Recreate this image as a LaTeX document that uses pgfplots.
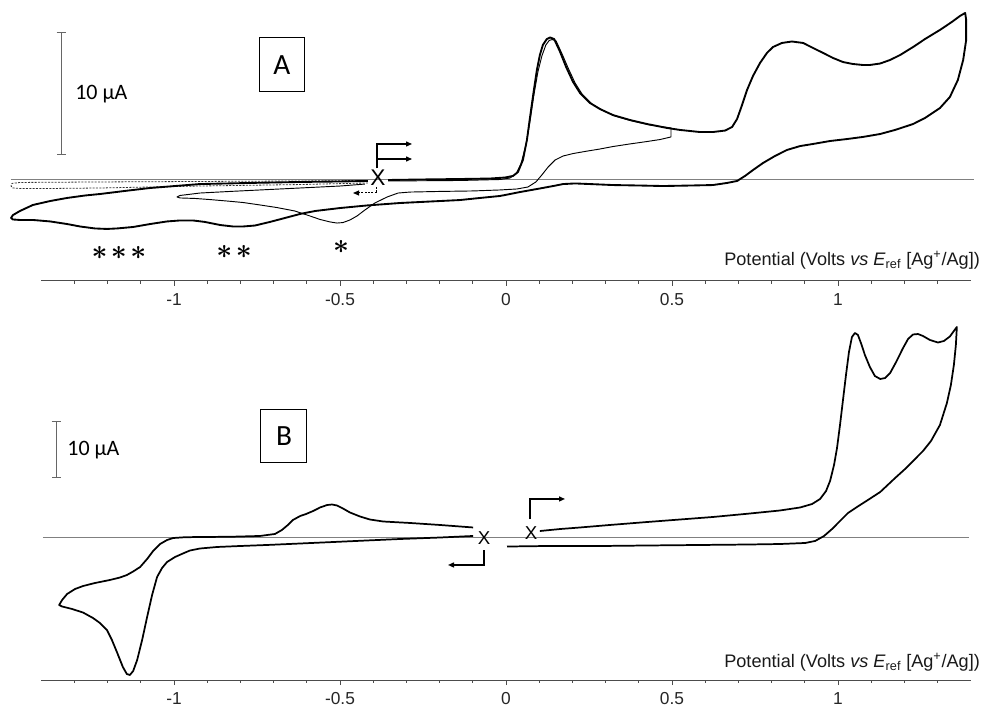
\documentclass[border=0pt]{standalone}
\usepackage{fontspec}
\setmainfont{Liberation Sans}
\newfontfamily\calib{Carlito}
\usepackage{pgfplots}
\pgfplotsset{compat=1.18}
\usetikzlibrary{arrows.meta}

\pgfplotsset{cvaxis/.style={
  anchor=origin, x=249pt, xmin=-1.4, xmax=1.4, clip=false,
  axis x line=bottom, axis y line=none,
  x axis line style={-, draw=black!70, line width=0.75pt},
  xtick={-1,-0.5,0,0.5,1}, xticklabels={-1,-0.5,0,0.5,1},
  minor xtick={-1.3,-1.2,-1.1,-0.9,-0.8,-0.7,-0.6,-0.4,-0.3,-0.2,-0.1,0.1,0.2,0.3,0.4,0.6,0.7,0.8,0.9,1.1,1.2,1.3},
  tick align=outside, major tick length=3.75pt, minor tick length=2pt,
  tick style={black!70, line width=0.6pt},
  xticklabel style={font=\fontsize{13}{15}\selectfont, text=black!85, yshift=-2pt},
  ytick=\empty,
}}
\tikzset{arr/.style={line width=1pt, -{Triangle[length=4.5pt,width=3.75pt]}}}

\begin{document}
\begin{tikzpicture}
\useasboundingbox (0,0) rectangle (745.5pt,530.25pt);

% ---------------- Panel A ----------------
\begin{axis}[cvaxis, at={(379.5pt,395.25pt)}, y=9.225pt, ymin=-8.21, ymax=14.5]
\addplot[gray, line width=0.75pt] coordinates {(-1.491,0) (1.41,0)};
% dashed loop
\addplot[black!80, line width=0.6pt, dash pattern=on 1.5pt off 1pt] coordinates {
(-0.416,-0.24) (-0.620,-0.37) (-0.922,-0.49) (-1.223,-0.65) (-1.373,-0.69) (-1.464,-0.69)
(-1.485,-0.65) (-1.491,-0.49) (-1.488,-0.28) (-1.464,-0.20) (-1.223,-0.16) (-0.922,-0.12)
(-0.620,-0.08) (-0.416,-0.04)};
% thin CV (switch at 0.5 V)
\addplot[black, line width=0.7pt, line join=round] coordinates {
(-0.355,-0.08) (-0.139,-0.04) (-0.018,0.04) (0.012,0.16) (0.030,0.49) (0.045,1.30) (0.060,2.85)
(0.072,4.72) (0.084,6.91) (0.096,8.78) (0.108,10.08) (0.120,10.98) (0.130,11.34) (0.139,11.42)
(0.151,11.30) (0.169,10.24) (0.187,9.11) (0.208,7.89) (0.229,6.99) (0.259,6.18) (0.289,5.69)
(0.328,5.20) (0.380,4.80) (0.434,4.47) (0.497,4.23) (0.497,3.50) (0.464,3.29) (0.425,3.13)
(0.373,2.93) (0.322,2.72) (0.283,2.52) (0.238,2.32) (0.202,2.15) (0.172,1.95) (0.148,1.63)
(0.127,1.06) (0.108,0.41) (0.090,-0.16) (0.066,-0.57) (0.033,-0.73) (-0.018,-0.81) (-0.099,-0.89)
(-0.199,-0.93) (-0.289,-0.98) (-0.325,-1.06) (-0.358,-1.38) (-0.395,-1.87) (-0.425,-2.44)
(-0.449,-2.93) (-0.470,-3.25) (-0.491,-3.46) (-0.509,-3.50) (-0.530,-3.41) (-0.560,-3.21)
(-0.590,-2.93) (-0.636,-2.52) (-0.690,-2.24) (-0.741,-2.03) (-0.792,-1.83) (-0.840,-1.71)
(-0.892,-1.59) (-0.937,-1.50) (-0.982,-1.46) (-0.991,-1.38) (-0.982,-1.26) (-0.922,-1.06)
(-0.831,-0.93) (-0.741,-0.81) (-0.620,-0.65) (-0.500,-0.49) (-0.425,-0.33)};
% thick CV (full range)
\addplot[black, line width=1.4pt, line join=round] coordinates {
(-0.355,0) (-0.259,0.04) (-0.139,0.08) (-0.048,0.12) (-0.003,0.20) (0.021,0.33) (0.036,0.65)
(0.051,1.63) (0.063,3.25) (0.072,5.04) (0.084,7.32) (0.093,8.94) (0.102,10.16) (0.111,10.98)
(0.123,11.46) (0.133,11.59) (0.145,11.46) (0.163,10.41) (0.181,9.19) (0.202,7.97) (0.223,7.07)
(0.253,6.26) (0.283,5.77) (0.322,5.28) (0.373,4.88) (0.425,4.55) (0.485,4.23) (0.524,4.07)
(0.584,3.90) (0.623,3.90) (0.660,4.02) (0.681,4.31) (0.696,4.96) (0.711,6.10) (0.726,7.32)
(0.744,8.46) (0.765,9.51) (0.786,10.33) (0.804,10.81) (0.831,11.14) (0.861,11.26) (0.895,11.14)
(0.925,10.73) (0.955,10.33) (0.985,9.92) (1.015,9.59) (1.045,9.43) (1.075,9.35) (1.096,9.35)
(1.127,9.47) (1.157,9.76) (1.187,10.16) (1.226,10.81) (1.262,11.46) (1.307,12.20) (1.343,12.85)
(1.367,13.33) (1.383,13.58) (1.386,13.01) (1.386,11.38) (1.377,9.76) (1.361,8.13) (1.337,6.75)
(1.307,5.85) (1.262,5.04) (1.226,4.55) (1.172,4.07) (1.127,3.74) (1.075,3.50) (1.027,3.33)
(0.976,3.17) (0.925,2.93) (0.886,2.76) (0.846,2.44) (0.810,1.95) (0.774,1.38) (0.744,0.81)
(0.720,0.33) (0.696,-0.08) (0.666,-0.24) (0.623,-0.41) (0.554,-0.45) (0.473,-0.49) (0.404,-0.45)
(0.322,-0.41) (0.253,-0.33) (0.208,-0.28) (0.172,-0.33) (0.142,-0.49) (0.102,-0.69) (0.042,-0.98)
(-0.018,-1.30) (-0.078,-1.46) (-0.139,-1.63) (-0.199,-1.71) (-0.319,-1.87) (-0.419,-2.07)
(-0.500,-2.28) (-0.575,-2.52) (-0.620,-2.76) (-0.666,-3.09) (-0.711,-3.41) (-0.756,-3.70)
(-0.792,-3.78) (-0.822,-3.78) (-0.861,-3.66) (-0.907,-3.41) (-0.943,-3.29) (-0.982,-3.29)
(-1.021,-3.37) (-1.072,-3.58) (-1.123,-3.82) (-1.172,-3.94) (-1.202,-3.98) (-1.238,-3.94)
(-1.283,-3.78) (-1.322,-3.58) (-1.373,-3.37) (-1.425,-3.25) (-1.464,-3.25) (-1.485,-3.21)
(-1.491,-3.09) (-1.485,-2.85) (-1.464,-2.52) (-1.425,-2.03) (-1.373,-1.71) (-1.322,-1.46)
(-1.268,-1.26) (-1.223,-1.14) (-1.148,-0.89) (-1.072,-0.65) (-0.997,-0.49) (-0.922,-0.33)
(-0.771,-0.24) (-0.620,-0.16) (-0.500,-0.12) (-0.416,-0.08)};
% annotations
\node[draw, line width=0.75pt, minimum width=33.75pt, minimum height=40.5pt, inner sep=0pt,
  font=\calib\fontsize{22}{24}\selectfont] at (axis cs:-0.675,9.35) {A};
\draw[black!60, line width=0.75pt, {Bar[width=6.75pt]}-{Bar[width=6.75pt]}]
  (axis cs:-1.340,2.03) -- (axis cs:-1.340,12.03);
\node[anchor=west, inner sep=0pt, font=\calib\fontsize{16.5}{18}\selectfont] at (axis cs:-1.298,7.0) {10 µA};
\node[font=\fontsize{21}{22}\selectfont\boldmath] at (axis cs:-1.166,-5.95) {${\ast}\mkern2mu{\ast}\mkern2mu{\ast}$};
\node[font=\fontsize{21}{22}\selectfont\boldmath] at (axis cs:-0.819,-5.85) {${\ast}\mkern2mu{\ast}$};
\node[font=\fontsize{21}{22}\selectfont\boldmath] at (axis cs:-0.497,-5.45) {${\ast}$};
\node[inner sep=0pt, font=\fontsize{17}{19}\selectfont] at (axis cs:-0.3855,0.16) {X};
\draw[arr] (axis cs:-0.3886,0.95) |- (axis cs:-0.2831,2.927);
\draw[arr] (axis cs:-0.3886,1.707) -- (axis cs:-0.2831,1.707);
\draw[line width=0.75pt, dash pattern=on 1.5pt off 1pt, -{Triangle[length=4.5pt,width=3.75pt]}]
  (axis cs:-0.3886,-0.55) |- (axis cs:-0.4608,-1.057);
\node[anchor=east, inner sep=0pt, font=\fontsize{13.6}{15}\selectfont, text=black!90] at (axis cs:1.428,-6.50)
  {Potential (Volts \textit{vs} \textit{E}\textsubscript{ref} [Ag\textsuperscript{+}/Ag])};
\end{axis}

% ---------------- Panel B ----------------
\begin{axis}[cvaxis, at={(379.5pt,127.5pt)}, y=4.275pt, ymin=-25.09, ymax=38]
\addplot[gray, line width=0.75pt] coordinates {(-1.395,0) (1.395,0)};
% anodic scan from X (0.08 V)
\addplot[black, line width=1.3pt, line join=round] coordinates {
(0.102,1.05) (0.163,1.40) (0.223,1.67) (0.313,2.11) (0.425,2.63) (0.524,3.07) (0.623,3.51)
(0.720,4.04) (0.825,4.65) (0.886,5.18) (0.922,5.79) (0.946,6.67) (0.964,8.07) (0.976,9.82)
(0.988,12.63) (0.997,15.61) (1.006,19.65) (1.015,24.04) (1.024,28.42) (1.033,32.46) (1.042,35.09)
(1.051,35.79) (1.060,35.44) (1.069,34.04) (1.081,31.93) (1.096,29.82) (1.111,28.25) (1.127,27.72)
(1.142,27.89) (1.157,28.77) (1.175,30.70) (1.196,33.16) (1.211,34.74) (1.226,35.53) (1.241,35.61)
(1.256,35.26) (1.277,34.56) (1.301,34.12) (1.319,34.39) (1.337,35.18) (1.349,36.14) (1.358,36.84)
(1.355,33.68) (1.349,30.18) (1.340,26.67) (1.328,23.51) (1.307,19.65) (1.280,16.84) (1.256,15.09)
(1.229,13.51) (1.202,11.93) (1.172,10.35) (1.127,7.89) (1.090,6.49) (1.057,5.26) (1.030,4.21)
(1.006,2.81) (0.982,1.40) (0.958,0.18) (0.931,-0.70) (0.901,-1.05) (0.825,-1.23) (0.726,-1.32)
(0.584,-1.40) (0.425,-1.49) (0.283,-1.58) (0.123,-1.58) (0.003,-1.67)};
% cathodic scan from X (-0.07 V)
\addplot[black, line width=1.3pt, line join=round] coordinates {
(-0.099,0.18) (-0.199,-0.09) (-0.319,-0.35) (-0.419,-0.61) (-0.521,-0.88) (-0.620,-1.14)
(-0.720,-1.40) (-0.801,-1.58) (-0.870,-1.75) (-0.922,-2.02) (-0.952,-2.37) (-0.973,-2.89)
(-0.997,-3.51) (-1.021,-4.39) (-1.036,-5.44) (-1.051,-7.02) (-1.066,-10.18) (-1.081,-14.04)
(-1.096,-18.07) (-1.111,-21.58) (-1.123,-23.51) (-1.133,-24.21) (-1.142,-24.04) (-1.154,-22.81)
(-1.172,-20.18) (-1.187,-18.07) (-1.202,-16.32) (-1.223,-15.09) (-1.244,-14.21) (-1.274,-13.25)
(-1.307,-12.63) (-1.337,-12.19) (-1.346,-11.93) (-1.337,-11.05) (-1.322,-10.00) (-1.298,-9.12)
(-1.274,-8.60) (-1.238,-8.07) (-1.193,-7.54) (-1.163,-7.11) (-1.142,-6.67) (-1.123,-6.05)
(-1.102,-5.26) (-1.081,-3.86) (-1.063,-2.46) (-1.042,-1.23) (-1.021,-0.53) (-1.003,-0.18)
(-0.967,-0.04) (-0.922,0) (-0.831,0.04) (-0.741,0.18) (-0.696,0.53) (-0.675,1.23) (-0.657,2.11)
(-0.642,2.98) (-0.620,3.68) (-0.602,4.04) (-0.581,4.56) (-0.560,5.18) (-0.539,5.61) (-0.524,5.70)
(-0.509,5.53) (-0.491,5.00) (-0.470,4.30) (-0.440,3.60) (-0.410,3.07) (-0.370,2.72) (-0.289,2.46)
(-0.199,2.11) (-0.099,1.67)};
% annotations
\node[draw, line width=0.75pt, minimum width=34.5pt, minimum height=40pt, inner sep=0pt,
  font=\calib\fontsize{22}{24}\selectfont] at (axis cs:-0.6687,17.72) {B};
\draw[black!60, line width=0.75pt, {Bar[width=6.75pt]}-{Bar[width=6.75pt]}]
  (axis cs:-1.3554,10.35) -- (axis cs:-1.3554,20.35);
\node[anchor=west, inner sep=0pt, font=\calib\fontsize{16.5}{18}\selectfont] at (axis cs:-1.322,15.2) {10 µA};
\node[inner sep=0pt, font=\fontsize{14}{16}\selectfont] at (axis cs:0.0753,0.70) {X};
\node[inner sep=0pt, font=\fontsize{14}{16}\selectfont] at (axis cs:-0.0663,-0.175) {X};
\draw[arr] (axis cs:0.0723,3.15) |- (axis cs:0.1777,6.67);
\draw[arr] (axis cs:-0.0663,-2.3) |- (axis cs:-0.1747,-4.91);
\node[anchor=east, inner sep=0pt, font=\fontsize{13.6}{15}\selectfont, text=black!90] at (axis cs:1.428,-21.93)
  {Potential (Volts \textit{vs} \textit{E}\textsubscript{ref} [Ag\textsuperscript{+}/Ag])};
\end{axis}
\end{tikzpicture}
\end{document}
